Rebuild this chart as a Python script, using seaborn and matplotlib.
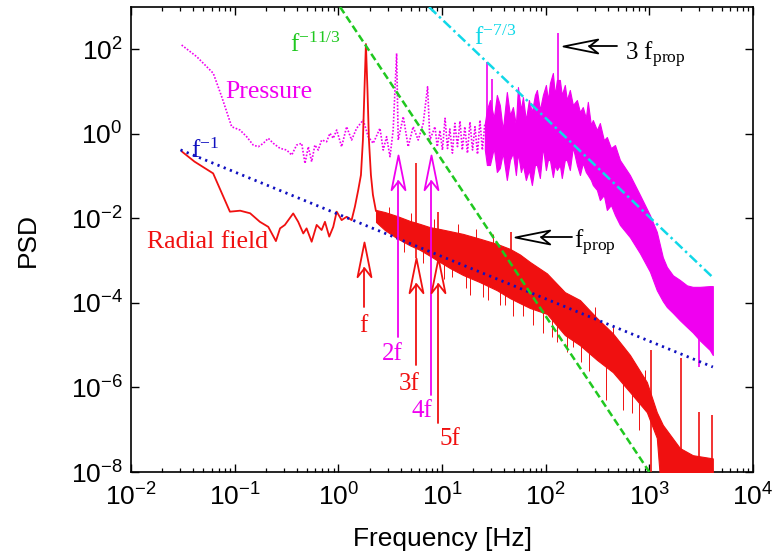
import numpy as np
import matplotlib
matplotlib.use("Agg")
import matplotlib.pyplot as plt
import seaborn as sns
from matplotlib.path import Path
from matplotlib.markers import MarkerStyle
from matplotlib.ticker import (LogLocator, NullLocator, NullFormatter,
                               LogFormatterSciNotation, FixedLocator)

# ---------------- data ----------------
# Radial field spectrum, low-frequency trace and the fundamental peak
radial_freq = [0.031, 0.041, 0.062, 0.090, 0.113, 0.141, 0.175, 0.211, 0.250, 0.274,
               0.305, 0.367, 0.410, 0.459, 0.494, 0.553, 0.618, 0.690, 0.743, 0.817,
               0.893, 0.964, 1.076, 1.202, 1.343, 1.445, 1.556, 1.652, 1.726, 1.786,
               1.845, 1.910, 1.973, 2.062, 2.156, 2.306]
radial_psd = [0.38, 0.22, 0.116, 0.0144, 0.0152, 0.0132, 0.0083, 0.0063, 0.0029, 0.0058,
              0.0070, 0.0131, 0.0083, 0.0044, 0.0058, 0.0028, 0.0070, 0.0053, 0.0083, 0.0037,
              0.0063, 0.0144, 0.0091, 0.0109, 0.0091, 0.0189, 0.047, 0.106, 0.71, 10.9,
              133.0, 10.9, 0.71, 0.106, 0.036, 0.0149]

# Radial field, dense broadband part (upper / lower envelope)
radial_band_freq = [2.31, 2.81, 3.67, 4.90, 6.12, 7.64, 9.55, 11.9, 15.9, 23.2,
                    33.8, 45.2, 56.4, 70.5, 102.8, 153, 214, 312, 445, 649,
                    946, 1180, 1349, 1968, 2624, 4093]
radial_band_hi = [0.0158, 0.0141, 0.0114, 0.0087, 0.0074, 0.0062, 0.0056, 0.0050, 0.0043, 0.0033,
                  0.0025, 0.0019, 0.0014, 9.3e-4, 5.0e-4, 1.8e-4, 1.17e-4, 4.4e-5, 1.9e-5, 5.9e-6,
                  1.34e-6, 2.6e-7, 1.3e-7, 3.7e-8, 2.5e-8, 2.1e-8]
radial_band_lo = [0.0082, 0.0053, 0.0034, 0.0023, 0.0018, 0.0013, 9.3e-4, 6.7e-4, 4.6e-4, 3.1e-4,
                  2.0e-4, 1.3e-4, 9.9e-5, 7.6e-5, 5.5e-5, 1.74e-5, 1.0e-5, 4.5e-6, 2.3e-6, 7.8e-7,
                  2.6e-7, 6.4e-8, 1e-9, 1e-9, 1e-9, 1e-9]

# Radial field narrow lines
radial_spike_freq = [5.6, 9.08, 45.8, 1028, 2040, 3024, 4040]
radial_spike_top = [0.20, 0.0141, 4.8e-3, 7.8e-6, 4.9e-6, 2.7e-7, 2.2e-7]
radial_spike_base = [1.15e-3, 1.15e-3, 1.0e-3, 1e-9, 1e-9, 1e-9, 1e-9]

# Radial field short excursions past the band edges (bottom, top of each stroke)
radial_hair_freq = [3.1, 4.3, 5.0, 6.6, 8.3, 10.5, 12.5, 14.2, 17.0, 18.6, 21.5,
                    25.0, 27.7, 31.0, 36.0, 40.5, 48.0, 60, 75, 94, 115, 130,
                    160, 183, 220, 260, 300, 381, 450, 560, 680, 800, 900]
radial_hair_lo = [0.006, 0.0016, 0.004, 0.0009, 0.002, 3.6e-4, 4.0e-4, 1.5e-3, 2.2e-4, 1.54e-4, 1e-3,
                  1.4e-4, 1.17e-4, 8e-4, 9e-5, 8.9e-5, 5e-5, 5e-5, 3e-5, 1.94e-5, 1.6e-5, 1.2e-5,
                  7e-6, 9e-6, 4e-6, 2.5e-6, 1e-5, 5e-7, 5e-6, 3e-7, 2.5e-7, 1e-7, 5e-7]
radial_hair_hi = [0.019, 0.005, 0.0135, 0.003, 0.0095, 1.5e-3, 1.5e-3, 0.0075, 9e-4, 8e-4, 0.0056,
                  6e-4, 5e-4, 0.0042, 4e-4, 3e-4, 2.5e-4, 2.5e-4, 1.5e-4, 1.2e-4, 8e-5, 5e-5,
                  3e-5, 3e-5, 2e-5, 1.5e-5, 8e-5, 5e-6, 3e-5, 2e-6, 1.5e-6, 5e-7, 2.6e-6]

# Pressure spectrum, low-frequency trace
pressure_freq = [0.0308, 0.0431, 0.0622, 0.075, 0.0936, 0.1125, 0.1305, 0.151, 0.169, 0.189,
                 0.211, 0.236, 0.2735, 0.317, 0.355, 0.396, 0.443, 0.477, 0.513, 0.553,
                 0.594, 0.640, 0.690, 0.771, 0.830, 0.893, 0.964, 1.076, 1.202, 1.343,
                 1.50, 1.738, 1.941, 2.17, 2.52, 2.71, 2.92, 3.15, 3.38, 3.65,
                 3.78, 4.23, 4.72, 5.27, 5.89, 6.59, 7.26, 7.64, 8.55, 9.0,
                 9.55, 10.1, 10.7, 11.3, 11.9, 12.6, 13.3, 14.1, 14.9, 15.7,
                 16.6, 17.6, 18.6, 19.7, 20.8, 22.0, 23.2, 24.5, 25.9]
pressure_psd = [126, 66.7, 27.0, 7.55, 1.47, 1.23, 0.855, 0.543, 0.496, 0.596,
                0.783, 0.596, 0.454, 0.414, 0.315, 0.543, 0.596, 0.200, 0.496, 0.219,
                0.543, 0.414, 0.714, 0.651, 1.03, 0.783, 1.23, 0.496, 1.47, 0.714,
                1.35, 2.12, 0.855, 0.596, 1.35, 0.414, 0.855, 0.288, 1.23, 80.0,
                0.714, 2.54, 0.496, 1.47, 0.714, 1.77, 13.0, 0.714, 1.47, 0.5,
                1.2, 0.414, 2.33, 0.45, 1.3, 0.35, 1.77, 0.5, 2.0, 0.414,
                1.47, 0.35, 1.9, 0.414, 1.47, 0.33, 2.1, 0.414, 1.77]

# Pressure, dense broadband part (upper / lower envelope)
pressure_band_freq = [25.9, 27.1, 29.0, 31.6, 33.8, 36.1, 38.6, 42.2, 45.2, 48.3,
                      51.6, 54.0, 57.7, 60.3, 64.4, 68.9, 73.6, 78.7, 82.3, 87.9,
                      94.0, 100.5, 105, 109.9, 117.3, 122.7, 128.2, 137, 143, 153,
                      160, 171, 183, 200, 214, 228, 244, 255, 273, 285,
                      312, 333, 364, 389, 426, 466, 520, 649, 811, 1012,
                      1180, 1349, 1475, 1687, 1968, 2303, 2624, 3068, 3830, 4093]
pressure_band_hi = [1.77, 3.7, 6.3, 2.37, 8.3, 4.8, 1.23, 9.75, 2.79, 4.3,
                    1.62, 12.8, 3.66, 7.4, 2.12, 6.3, 3.28, 8.3, 10.9, 3.66,
                    8.3, 14.3, 6.3, 15.9, 27.5, 8.3, 18.8, 18.8, 8.3, 14.3,
                    6.3, 10.9, 4.8, 6.3, 3.28, 4.3, 2.37, 5.7, 1.62, 2.12,
                    1.23, 1.80, 0.714, 0.84, 0.461, 0.543, 0.24, 0.106, 0.036, 0.012,
                    4.8e-3, 1.2e-3, 7.1e-4, 4.5e-4, 3.5e-4, 2.6e-4, 2.4e-4, 2.4e-4, 2.5e-4, 2.5e-4]
pressure_band_lo = [0.414, 0.183, 0.183, 0.461, 0.125, 0.155, 0.352, 0.081, 0.24, 0.352,
                    0.106, 0.352, 0.125, 0.183, 0.081, 0.139, 0.0615, 0.183, 0.183, 0.090,
                    0.488, 0.139, 0.24, 0.24, 0.095, 0.183, 0.139, 0.183, 0.090, 0.24,
                    0.24, 0.139, 0.488, 0.183, 0.106, 0.204, 0.125, 0.106, 0.081, 0.0615,
                    0.047, 0.0271, 0.0356, 0.0158, 0.0207, 0.012, 0.0070, 3.6e-3, 1.5e-3, 5.5e-4,
                    2.0e-4, 1.1e-4, 8e-5, 5.8e-5, 3.9e-5, 2.7e-5, 2.0e-5, 1.3e-5, 7.7e-6, 5.85e-6]
pressure_spike_freq = [27.1, 30.5, 130.2, 3000]
pressure_spike_top = [50.8, 20.0, 239.0, 2.0e-5]
pressure_spike_base = [1.0, 1.0, 5.0, 3.0e-6]

# Power-law guide lines (end points)
law_m1_freq, law_m1_psd = [0.03, 4100], [0.417, 3.05e-6]
law_m113_freq, law_m113_psd = [1.04, 1000], [1.0e3, 1.0e-8]
law_m73_freq, law_m73_psd = [7.5, 4100], [1.0e3, 4.0e-4]

# Harmonic markers of the fundamental f
harm_labels = ["f", "2f", "3f", "4f", "5f"]
harm_freq = [1.77, 3.73, 5.6, 7.77, 9.08]
harm_tip = [2.75e-3, 0.315, 1.15e-3, 0.315, 1.15e-3]
harm_tail = [8.0e-5, 1.56e-5, 3.4e-6, 6.6e-7, 1.44e-7]
harm_label_freq = [1.73, 3.33, 4.8, 6.47, 11.9]
harm_label_psd = [2.05e-5, 4.46e-6, 8.7e-7, 2.0e-7, 4.35e-8]

# Propeller-frequency markers
prop_labels = [r"f$_{prop}$", r"3 f$_{prop}$"]
prop_tip_freq = [50.5, 147.6]
prop_tip_psd = [3.68e-3, 119.0]
prop_tail_freq = [179, 483]
prop_label_freq = [187, 581]
prop_label_psd = [1.99e-3, 55.7]

# ---------------- style ----------------
sns.set_theme(style="ticks", rc={"text.color": "black", "axes.labelcolor": "black",
                                 "xtick.color": "black", "ytick.color": "black",
                                 "axes.edgecolor": "black"})
plt.rcParams["font.family"] = ["Liberation Sans", "DejaVu Sans"]
plt.rcParams["mathtext.default"] = "regular"
SERIF = ["Liberation Serif", "DejaVu Serif"]

RED = "#f01010"
MAGENTA = "#f000f0"
BLUE = "#1010c0"
GREEN = "#20c820"
CYAN = "#10d8e8"

fig, ax = plt.subplots(figsize=(7.76, 5.6), dpi=100)
fig.subplots_adjust(left=0.1688, right=0.9704, bottom=0.1571, top=0.9875)
ax.set_xscale("log")
ax.set_yscale("log")
ax.set_xlim(1e-2, 1e4)
ax.set_ylim(1e-8, 1e3)

# ---------------- pressure ----------------
ax.fill_between(pressure_band_freq, pressure_band_lo, pressure_band_hi,
                color=MAGENTA, lw=0.8, zorder=2)
sns.lineplot(x=pressure_freq, y=pressure_psd, ax=ax, color=MAGENTA, lw=1.2,
             linestyle=(0, (1, 1)), sort=False, estimator=None, zorder=2)
ax.vlines(pressure_spike_freq, pressure_spike_base, pressure_spike_top,
          color=MAGENTA, lw=1.2, zorder=2)

# ---------------- radial field ----------------
ax.fill_between(radial_band_freq, radial_band_lo, radial_band_hi,
                color=RED, lw=0.8, zorder=3)
sns.lineplot(x=radial_freq, y=radial_psd, ax=ax, color=RED, lw=1.3,
             sort=False, estimator=None, zorder=3)
ax.vlines(radial_spike_freq, radial_spike_base, radial_spike_top, color=RED, lw=1.2, zorder=3)
ax.vlines(radial_hair_freq, radial_hair_lo, radial_hair_hi, color=RED, lw=0.7, zorder=3)

# ---------------- power laws ----------------
sns.lineplot(x=law_m1_freq, y=law_m1_psd, ax=ax, color=BLUE, lw=2.0,
             linestyle=(0, (0.8, 1.6)), sort=False, estimator=None, zorder=4)
sns.lineplot(x=law_m113_freq, y=law_m113_psd, ax=ax, color=GREEN, lw=1.8,
             linestyle=(0, (3, 1.5)), sort=False, estimator=None, zorder=4)
sns.lineplot(x=law_m73_freq, y=law_m73_psd, ax=ax, color=CYAN, lw=1.8,
             linestyle=(0, (4, 1.5, 1, 1.5)), sort=False, estimator=None, zorder=4)

# ---------------- open arrow heads ----------------
HEAD_MS = 50.0
head_up = Path([(0, 0), (-7, -35), (0, -26), (7, -35), (0, 0)],
               [Path.MOVETO, Path.LINETO, Path.LINETO, Path.LINETO, Path.CLOSEPOLY])
head_left = Path([(0, 0), (35, 7), (26, 0), (35, -7), (0, 0)],
                 [Path.MOVETO, Path.LINETO, Path.LINETO, Path.LINETO, Path.CLOSEPOLY])
notch_px = HEAD_MS * 0.5 * fig.dpi / 72.0 * 26.0 / 35.0
to_disp = ax.transData.transform
to_data = ax.transData.inverted().transform

for lab, fx, tip, tail, col, lx, ly in zip(
        harm_labels, harm_freq, harm_tip, harm_tail,
        [RED, MAGENTA, RED, MAGENTA, RED], harm_label_freq, harm_label_psd):
    tx, ty = to_disp((fx, tip))
    _, notch = to_data((tx, ty - notch_px))
    ax.plot([fx, fx], [tail, notch], color=col, lw=1.3, zorder=6)
    ax.plot([fx], [tip], marker=MarkerStyle(head_up), ms=HEAD_MS, mfc="none",
            mec=col, mew=1.3, ls="none", zorder=7)
    ax.text(lx, ly, lab, color=col, ha="center", va="baseline",
            fontsize=18, family=SERIF, zorder=7)

for lab, fx, fy, tail, lx, ly in zip(prop_labels, prop_tip_freq, prop_tip_psd,
                                     prop_tail_freq, prop_label_freq, prop_label_psd):
    tx, ty = to_disp((fx, fy))
    notch, _ = to_data((tx + notch_px, ty))
    ax.plot([notch, tail], [fy, fy], color="black", lw=1.3, zorder=6)
    ax.plot([fx], [fy], marker=MarkerStyle(head_left), ms=HEAD_MS, mfc="none",
            mec="black", mew=1.3, ls="none", zorder=7)
    ax.text(lx, ly, lab, color="black", ha="left", va="baseline",
            fontsize=18, family=SERIF, zorder=7)

# ---------------- curve labels ----------------
ax.text(0.0805, 7.03, "Pressure", color=MAGENTA, fontsize=18.5, family=SERIF,
        ha="left", va="baseline")
ax.text(0.01426, 2.0e-3, "Radial field", color=RED, fontsize=18.5, family=SERIF,
        ha="left", va="baseline", zorder=8)
ax.text(0.0379, 0.268, r"f$^{-1}$", color=BLUE, fontsize=18, family=SERIF,
        ha="left", va="baseline")
ax.text(0.341, 86.0, r"f$^{-11/3}$", color=GREEN, fontsize=18, family=SERIF,
        ha="left", va="baseline")
ax.text(20.3, 126.0, r"f$^{-7/3}$", color=CYAN, fontsize=18, family=SERIF,
        ha="left", va="baseline")

# ---------------- axes ----------------
ax.xaxis.set_major_locator(LogLocator(base=10, numticks=20))
ax.xaxis.set_minor_locator(LogLocator(base=10, subs=np.arange(2, 10), numticks=20))
ax.xaxis.set_minor_formatter(NullFormatter())
ax.xaxis.set_major_formatter(LogFormatterSciNotation())
ax.yaxis.set_major_locator(FixedLocator([1e-8, 1e-6, 1e-4, 1e-2, 1e0, 1e2]))
ax.yaxis.set_minor_locator(NullLocator())
ax.yaxis.set_major_formatter(LogFormatterSciNotation())

ax.tick_params(which="both", direction="in", top=True, right=True, colors="black",
               labelsize=19)
ax.tick_params(which="major", length=5.5, width=1.0)
ax.tick_params(which="minor", length=2.8, width=0.9)
ax.tick_params(axis="x", pad=8)
ax.tick_params(axis="y", pad=6)
for s in ax.spines.values():
    s.set_linewidth(1.2)
    s.set_color("black")

ax.set_xlabel("Frequency [Hz]", fontsize=19, labelpad=12)
ax.set_ylabel("PSD", fontsize=19, labelpad=22)

fig.savefig("out.png", dpi=100)
